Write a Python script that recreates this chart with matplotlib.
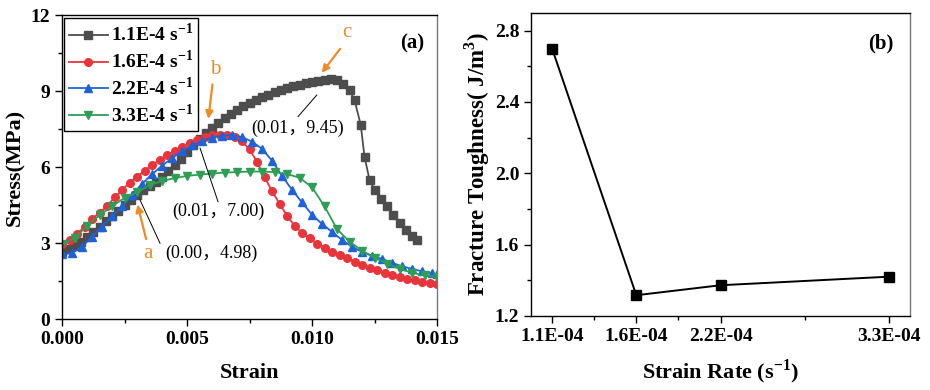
import matplotlib
matplotlib.use('Agg')
import matplotlib.pyplot as plt
from matplotlib.ticker import MultipleLocator, FormatStrFormatter, FixedLocator

plt.rcParams['font.family'] = ['Liberation Serif', 'Noto Sans CJK SC']
plt.rcParams['mathtext.fontset'] = 'custom'
plt.rcParams['mathtext.rm'] = 'Liberation Serif:bold'
plt.rcParams['mathtext.bf'] = 'Liberation Serif:bold'

# ---- panel (a): stress-strain curves ----
strain_11 = [0.00000, 0.00025, 0.00050, 0.00075, 0.00100, 0.00125, 0.00150, 0.00175,
             0.00200, 0.00225, 0.00250, 0.00275, 0.00300, 0.00325, 0.00350, 0.00375,
             0.00400, 0.00425, 0.00450, 0.00475, 0.00500, 0.00525, 0.00550, 0.00575,
             0.00600, 0.00625, 0.00650, 0.00675, 0.00700, 0.00725, 0.00750, 0.00775,
             0.00800, 0.00825, 0.00850, 0.00875, 0.00900, 0.00925, 0.00950, 0.00975,
             0.01000, 0.01025, 0.01050, 0.01075, 0.01100, 0.01125, 0.01150, 0.01170,
             0.01195, 0.01210, 0.01230, 0.01250, 0.01275, 0.01300, 0.01325, 0.01350,
             0.01375, 0.01400, 0.01420]
stress_11 = [2.65, 2.75, 2.90, 3.05, 3.25, 3.45, 3.65, 3.85,
             4.07, 4.28, 4.50, 4.70, 4.90, 5.08, 5.25, 5.42,
             5.62, 5.85, 6.08, 6.32, 6.58, 6.85, 7.10, 7.35,
             7.55, 7.75, 7.93, 8.10, 8.25, 8.40, 8.52, 8.64,
             8.75, 8.85, 8.95, 9.04, 9.12, 9.19, 9.25, 9.31,
             9.36, 9.41, 9.44, 9.46, 9.42, 9.28, 9.04, 8.64,
             7.66, 6.40, 5.50, 5.10, 4.75, 4.45, 4.12, 3.80,
             3.52, 3.28, 3.10]

strain_16 = [0.0000, 0.0003, 0.0006, 0.0009, 0.0012, 0.0015, 0.0018, 0.0021, 0.0024,
             0.0027, 0.0030, 0.0033, 0.0036, 0.0039, 0.0042, 0.0045, 0.0048, 0.0051,
             0.0054, 0.0057, 0.0060, 0.0063, 0.0066, 0.0069, 0.0072, 0.0075, 0.0078,
             0.0081, 0.0084, 0.0087, 0.0090, 0.0093, 0.0096, 0.0099, 0.0102, 0.0105,
             0.0108, 0.0111, 0.0114, 0.0117, 0.0120, 0.0123, 0.0126, 0.0129, 0.0132,
             0.0135, 0.0138, 0.0141, 0.0144, 0.0147, 0.0150]
stress_16 = [2.95, 3.12, 3.35, 3.65, 3.95, 4.20, 4.45, 4.80, 5.09,
             5.38, 5.62, 5.85, 6.07, 6.28, 6.47, 6.64, 6.80, 6.95,
             7.08, 7.18, 7.25, 7.27, 7.25, 7.17, 7.02, 6.70, 6.20,
             5.60, 5.05, 4.55, 4.08, 3.68, 3.40, 3.18, 2.98, 2.82,
             2.66, 2.52, 2.40, 2.27, 2.14, 2.02, 1.92, 1.82, 1.74,
             1.66, 1.59, 1.53, 1.47, 1.42, 1.38]

strain_22 = [0.0000, 0.0004, 0.0008, 0.0012, 0.0016, 0.0020, 0.0024, 0.0028, 0.0032,
             0.0036, 0.0040, 0.0044, 0.0048, 0.0052, 0.0056, 0.0060, 0.0064, 0.0068,
             0.0072, 0.0076, 0.0080, 0.0084, 0.0088, 0.0092, 0.0096, 0.0100, 0.0104,
             0.0108, 0.0112, 0.0116, 0.0120, 0.0124, 0.0128, 0.0132, 0.0136, 0.0140,
             0.0144, 0.0148, 0.0150]
stress_22 = [2.55, 2.60, 2.85, 3.25, 3.65, 4.05, 4.45, 4.90, 5.33,
             5.72, 6.05, 6.35, 6.62, 6.85, 7.03, 7.16, 7.24, 7.26,
             7.18, 7.00, 6.72, 6.25, 5.65, 5.10, 4.60, 4.12, 3.75,
             3.44, 3.12, 2.85, 2.65, 2.50, 2.37, 2.22, 2.08, 1.98,
             1.88, 1.80, 1.77]

strain_33 = [0.0000, 0.0005, 0.0010, 0.0015, 0.0020, 0.0025, 0.0030, 0.0035, 0.0040,
             0.0045, 0.0050, 0.0055, 0.0060, 0.0065, 0.0070, 0.0075, 0.0080, 0.0085,
             0.0090, 0.0095, 0.0100, 0.0105, 0.0110, 0.0115, 0.0120, 0.0125, 0.0130,
             0.0135, 0.0140, 0.0145, 0.0150]
stress_33 = [2.95, 3.20, 3.68, 4.10, 4.45, 4.78, 5.00, 5.28, 5.45,
             5.56, 5.65, 5.70, 5.74, 5.78, 5.80, 5.82, 5.82, 5.80,
             5.72, 5.58, 5.20, 4.45, 3.55, 3.05, 2.70, 2.42, 2.18,
             1.98, 1.83, 1.72, 1.65]

# ---- panel (b): fracture toughness ----
rate_labels = ['1.1E-04', '1.6E-04', '2.2E-04', '3.3E-04']
toughness = [2.70, 1.316, 1.372, 1.42]
rate_pos = [1, 2, 3, 5]

fig = plt.figure(figsize=(9.3, 3.9), dpi=100)
ax1 = fig.add_axes([0.0667, 0.182, 0.4032, 0.7795])
ax2 = fig.add_axes([0.571, 0.19, 0.4075, 0.777])

series = [
    (strain_11, stress_11, '#4d4d4d', 's', r'1.1E-4 s$^{\mathbf{-1}}$'),
    (strain_16, stress_16, '#e8343b', 'o', r'1.6E-4 s$^{\mathbf{-1}}$'),
    (strain_22, stress_22, '#1f62d8', '^', r'2.2E-4 s$^{\mathbf{-1}}$'),
    (strain_33, stress_33, '#2e9e55', 'v', r'3.3E-4 s$^{\mathbf{-1}}$'),
]
for x, y, c, m, lab in series:
    ax1.plot(x, y, color=c, marker=m, markersize=5.5, lw=1.3, label=lab)

ax1.set_xlim(0, 0.015)
ax1.set_ylim(0, 12)
ax1.xaxis.set_major_locator(MultipleLocator(0.005))
ax1.xaxis.set_minor_locator(MultipleLocator(0.0025))
ax1.xaxis.set_major_formatter(FormatStrFormatter('%.3f'))
ax1.yaxis.set_major_locator(MultipleLocator(3))
ax1.yaxis.set_minor_locator(MultipleLocator(1.5))
ax1.set_xlabel('Strain', fontsize=16, fontweight='bold', labelpad=11)
ax1.set_ylabel('Stress(MPa)', fontsize=16, fontweight='bold', labelpad=4)

leg = ax1.legend(loc='upper left', bbox_to_anchor=(0.005, 0.99), borderaxespad=0,
                 fancybox=False, edgecolor='black', framealpha=1,
                 prop={'weight': 'bold', 'size': 14}, handlelength=2.0,
                 handletextpad=0.15, labelspacing=0.22, borderpad=0.25)
leg.get_frame().set_linewidth(1.0)

ax1.text(0.0140, 10.88, '(a)', fontsize=15, fontweight='bold', ha='center', va='center')

orange = '#f08a24'
arrow = dict(arrowstyle='-|>', color=orange, lw=1.6, mutation_scale=11)
ax1.annotate('', xy=(0.01032, 9.63), xytext=(0.01119, 10.75), arrowprops=arrow)
ax1.text(0.0114, 11.3, 'c', color=orange, fontsize=15, ha='center', va='center')
ax1.annotate('', xy=(0.00584, 7.79), xytext=(0.00603, 9.37), arrowprops=arrow)
ax1.text(0.00612, 9.85, 'b', color=orange, fontsize=15, ha='center', va='center')
ax1.annotate('', xy=(0.00299, 4.63), xytext=(0.00339, 3.05), arrowprops=arrow)
ax1.text(0.00344, 2.6, 'a', color=orange, fontsize=15, ha='center', va='center')

ax1.plot([0.01019, 0.00944], [8.84, 7.99], color='black', lw=0.7)
ax1.text(0.00944, 7.54, '(0.01，9.45)', fontsize=13, ha='center', va='center')
ax1.plot([0.00552, 0.00624], [6.75, 4.63], color='black', lw=0.7)
ax1.text(0.00624, 4.24, '(0.01，7.00)', fontsize=13, ha='center', va='center')
ax1.plot([0.00312, 0.00392], [4.70, 2.99], color='black', lw=0.7)
ax1.text(0.00599, 2.59, '(0.00，4.98)', fontsize=13, ha='center', va='center')

ax2.plot(rate_pos, toughness, color='black', marker='s', markersize=7.5, lw=1.4)
ax2.set_xlim(0.75, 5.25)
ax2.set_ylim(1.2, 2.9)
ax2.xaxis.set_major_locator(FixedLocator(rate_pos))
ax2.set_xticklabels(rate_labels)
ax2.xaxis.set_minor_locator(FixedLocator([1.5, 2.5, 4]))
ax2.yaxis.set_major_locator(MultipleLocator(0.4))
ax2.yaxis.set_minor_locator(MultipleLocator(0.2))
ax2.yaxis.set_major_formatter(FormatStrFormatter('%.1f'))
ax2.set_xlabel(r'Strain Rate (s$^{\mathbf{-1}}$)', fontsize=16, fontweight='bold', labelpad=9)
ax2.set_ylabel(r'Fracture Toughness( J/m$^{\mathbf{3}}$)', fontsize=16.5, fontweight='bold', labelpad=2)
ax2.text(4.9, 2.73, '(b)', fontsize=15, fontweight='bold', ha='center', va='center')

for ax in (ax1, ax2):
    ax.tick_params(which='both', direction='out', width=1)
    ax.tick_params(which='major', length=5, labelsize=14)
    ax.tick_params(which='minor', length=3)
    for lab in ax.get_xticklabels() + ax.get_yticklabels():
        lab.set_fontweight('bold')
    for sp in ax.spines.values():
        sp.set_linewidth(1.0)
        sp.set_color('black')
    ax.spines['right'].set_color('#777777')

fig.savefig('out.png', dpi=100)
plt.close(fig)
